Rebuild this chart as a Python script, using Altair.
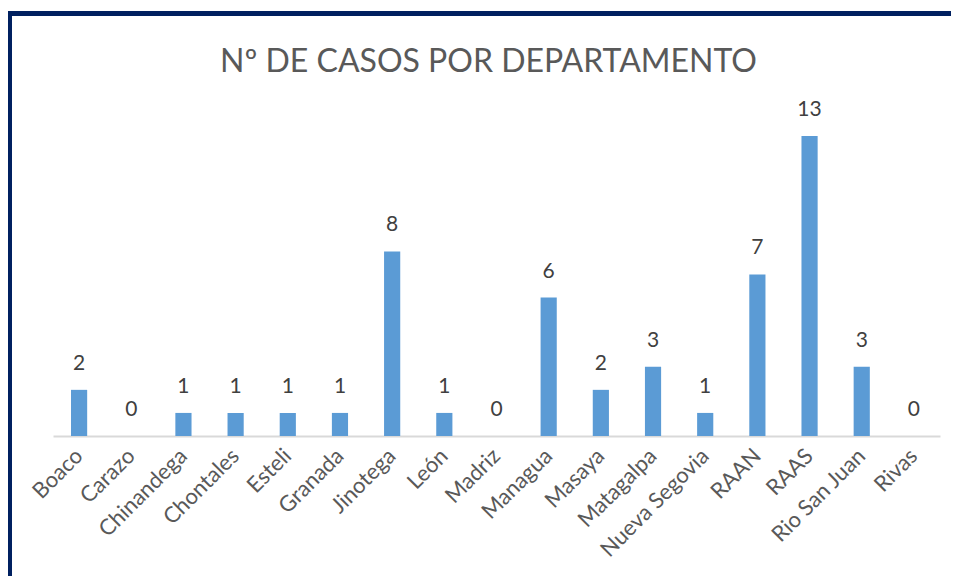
import altair as alt
import pandas as pd

departamentos = ["Boaco", "Carazo", "Chinandega", "Chontales", "Esteli", "Granada",
                 "Jinotega", "León", "Madriz", "Managua", "Masaya", "Matagalpa",
                 "Nueva Segovia", "RAAN", "RAAS", "Rio San Juan", "Rivas"]
casos = [2, 0, 1, 1, 1, 1, 8, 1, 0, 6, 2, 3, 1, 7, 13, 3, 0]

df = pd.DataFrame({"departamento": departamentos, "casos": casos})

FONT = "Lato"
W, H = 887, 300

x = alt.X("departamento:N", sort=departamentos,
          scale=alt.Scale(paddingInner=0.69, paddingOuter=0.345),
          axis=alt.Axis(title=None, labelAngle=-45, labelAlign="right",
                        labelBaseline="middle", labelFontSize=22, labelColor="#595959",
                        labelFont=FONT, ticks=False, labelPadding=16,
                        domainColor="#d9d9d9", domainWidth=2))
y = alt.Y("casos:Q", scale=alt.Scale(domain=[0, 13], nice=False), axis=None)

bars = alt.Chart(df).mark_bar(color="#5B9BD5").encode(x=x, y=y)
labels = alt.Chart(df).mark_text(dy=-26, fontSize=21, color="#404040", font=FONT,
                                 baseline="middle").encode(x=x, y=y, text="casos:Q")

frame_left = alt.Chart(df).mark_rule(color="#002060", strokeWidth=5).encode(
    x=alt.value(-43.5), y=alt.value(-125), y2=alt.value(600))
frame_top = alt.Chart(df).mark_rule(color="#002060", strokeWidth=5).encode(
    x=alt.value(-46), x2=alt.value(1000), y=alt.value(-122.5))

chart = alt.layer(frame_left, frame_top, bars, labels).properties(
    width=W, height=H,
    title=alt.TitleParams("Nº DE CASOS POR DEPARTAMENTO", fontSize=32, font=FONT,
                          fontWeight="normal", color="#595959", anchor="middle",
                          frame="group", offset=-102, baseline="bottom", dx=-8),
    padding={"left": 45, "top": 128, "right": 11, "bottom": 140},
    autosize=alt.AutoSizeParams(type="none"),
).configure_view(stroke=None)

chart.save("out.html", embed_options={"renderer": "svg", "actions": False})
